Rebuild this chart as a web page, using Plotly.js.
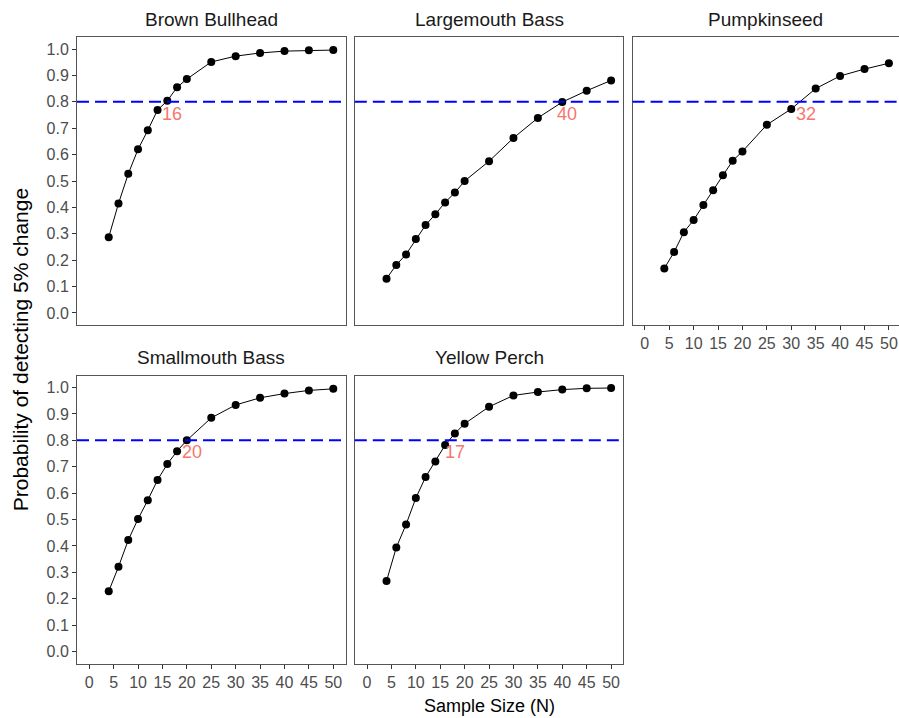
<!DOCTYPE html>
<html>
<head>
<meta charset="utf-8">
<script src="https://cdn.plot.ly/plotly-3.0.1.min.js"></script>
<style>html,body{margin:0;padding:0;background:#fff;}#chart{width:899px;height:718px;}</style>
</head>
<body>
<div id="chart"></div>
<script>
// ---- data ----
const sampleSize = [4, 6, 8, 10, 12, 14, 16, 18, 20, 25, 30, 35, 40, 45, 50];
const species = ["Brown Bullhead", "Largemouth Bass", "Pumpkinseed", "Smallmouth Bass", "Yellow Perch"];
const brownBullhead  = [0.287, 0.415, 0.527, 0.620, 0.692, 0.769, 0.804, 0.855, 0.886, 0.951, 0.973, 0.985, 0.992, 0.995, 0.996];
const largemouthBass = [0.130, 0.182, 0.222, 0.280, 0.333, 0.374, 0.419, 0.456, 0.500, 0.575, 0.663, 0.739, 0.799, 0.842, 0.881];
const pumpkinseed    = [0.169, 0.231, 0.306, 0.352, 0.409, 0.465, 0.522, 0.577, 0.612, 0.713, 0.773, 0.850, 0.898, 0.924, 0.946];
const smallmouthBass = [0.228, 0.321, 0.422, 0.502, 0.573, 0.650, 0.710, 0.759, 0.800, 0.885, 0.934, 0.961, 0.977, 0.989, 0.995];
const yellowPerch    = [0.267, 0.394, 0.481, 0.581, 0.661, 0.720, 0.782, 0.826, 0.863, 0.927, 0.970, 0.983, 0.992, 0.997, 0.998];
const thresholdN = [16, 40, 32, 20, 17];
const targetPower = 0.8;
const xTickVals = [0, 5, 10, 15, 20, 25, 30, 35, 40, 45, 50];
const yTickVals = [0.0, 0.1, 0.2, 0.3, 0.4, 0.5, 0.6, 0.7, 0.8, 0.9, 1.0];

const seriesList = [brownBullhead, largemouthBass, pumpkinseed, smallmouthBass, yellowPerch];

// ---- layout geometry (pixels) ----
const W = 899, H = 718;
const cols = [[77, 345.5], [354.8, 623.3], [632.6, 899]];
const rows = [[37, 325], [375.5, 663.5]];
const panelPos = [[0,0],[0,1],[0,2],[1,0],[1,1]]; // [row, col]
const px = v => v / W;
const py = v => 1 - v / H;
const unitPx = (cols[0][1] - cols[0][0]) / 55;

const borderColor = '#555555';
const tickFontColor = '#4D4D4D';
const FONT = 'Liberation Sans, Arial, sans-serif';

const traces = [];
const layout = {
  width: W, height: H,
  margin: {l: 0, r: 0, t: 0, b: 0},
  paper_bgcolor: '#ffffff', plot_bgcolor: '#ffffff',
  showlegend: false,
  font: {family: FONT},
  shapes: [], annotations: []
};

seriesList.forEach((ys, i) => {
  const n = i + 1;
  const sfx = n === 1 ? '' : String(n);
  const [r, c] = panelPos[i];
  traces.push({
    type: 'scatter', mode: 'lines+markers',
    x: sampleSize, y: ys,
    xaxis: 'x' + sfx, yaxis: 'y' + sfx,
    line: {color: '#000000', width: 1},
    marker: {color: '#000000', size: 8},
    cliponaxis: false,
    hoverinfo: 'x+y'
  });
  const xEnd = cols[c][1] < 899 ? 52.5 : -2.5 + (899 - cols[c][0]) / unitPx;
  const showX = (r === 1) || (c === 2);
  const showY = (c === 0);
  layout['xaxis' + sfx] = {
    domain: [px(cols[c][0]), px(cols[c][1])],
    anchor: 'y' + sfx,
    range: [-2.5, xEnd],
    tickvals: xTickVals,
    ticktext: xTickVals.map(String),
    showticklabels: showX,
    ticks: showX ? 'outside' : '',
    ticklen: 4, tickwidth: 1, tickcolor: '#333333',
    tickfont: {size: 16, color: tickFontColor, family: FONT},
    showline: true, linecolor: borderColor, linewidth: 1,
    mirror: true,
    showgrid: false, zeroline: false, fixedrange: true
  };
  layout['yaxis' + sfx] = {
    domain: [py(rows[r][1]), py(rows[r][0])],
    anchor: 'x' + sfx,
    range: [-0.0455, 1.0455],
    tickvals: yTickVals,
    ticktext: yTickVals.map(v => v.toFixed(1)),
    showticklabels: showY,
    ticks: showY ? 'outside' : '',
    ticklen: 4, tickwidth: 1, tickcolor: '#333333',
    tickfont: {size: 16, color: tickFontColor, family: FONT},
    showline: true, linecolor: borderColor, linewidth: 1,
    mirror: c === 2 ? false : true,
    showgrid: false, zeroline: false, fixedrange: true
  };
  // threshold line
  layout.shapes.push({
    type: 'line', xref: 'x' + sfx + ' domain', yref: 'y' + sfx,
    x0: 0, x1: 1, y0: targetPower, y1: targetPower,
    line: {color: '#0000FF', width: 2, dash: '12px,6px'}
  });
  // threshold N label
  layout.annotations.push({
    xref: 'x' + sfx, yref: 'y' + sfx,
    x: thresholdN[i], y: targetPower,
    text: String(thresholdN[i]), showarrow: false,
    xanchor: 'center', yanchor: 'top', xshift: 5, yshift: 0,
    font: {size: 18, color: '#F8766D', family: FONT}
  });
  // strip title
  layout.annotations.push({
    xref: 'paper', yref: 'paper',
    x: px((cols[c][0] + cols[c][1]) / 2), y: py(rows[r][0] - 18),
    text: species[i], showarrow: false,
    xanchor: 'center', yanchor: 'middle',
    font: {size: 19, color: '#1a1a1a', family: FONT}
  });
});

// axis titles
layout.annotations.push({
  xref: 'paper', yref: 'paper',
  x: px((cols[0][0] + 901) / 2), y: py(706),
  text: 'Sample Size (N)', showarrow: false,
  xanchor: 'center', yanchor: 'middle',
  font: {size: 18, color: '#000000', family: FONT}
});
layout.annotations.push({
  xref: 'paper', yref: 'paper',
  x: px(20), y: py((rows[0][0] + rows[1][1]) / 2),
  text: 'Probability of detecting 5% change', showarrow: false,
  textangle: -90,
  xanchor: 'center', yanchor: 'middle',
  font: {size: 21, color: '#000000', family: FONT}
});

Plotly.newPlot('chart', traces, layout, {displayModeBar: false, staticPlot: true});
</script>
</body>
</html>
